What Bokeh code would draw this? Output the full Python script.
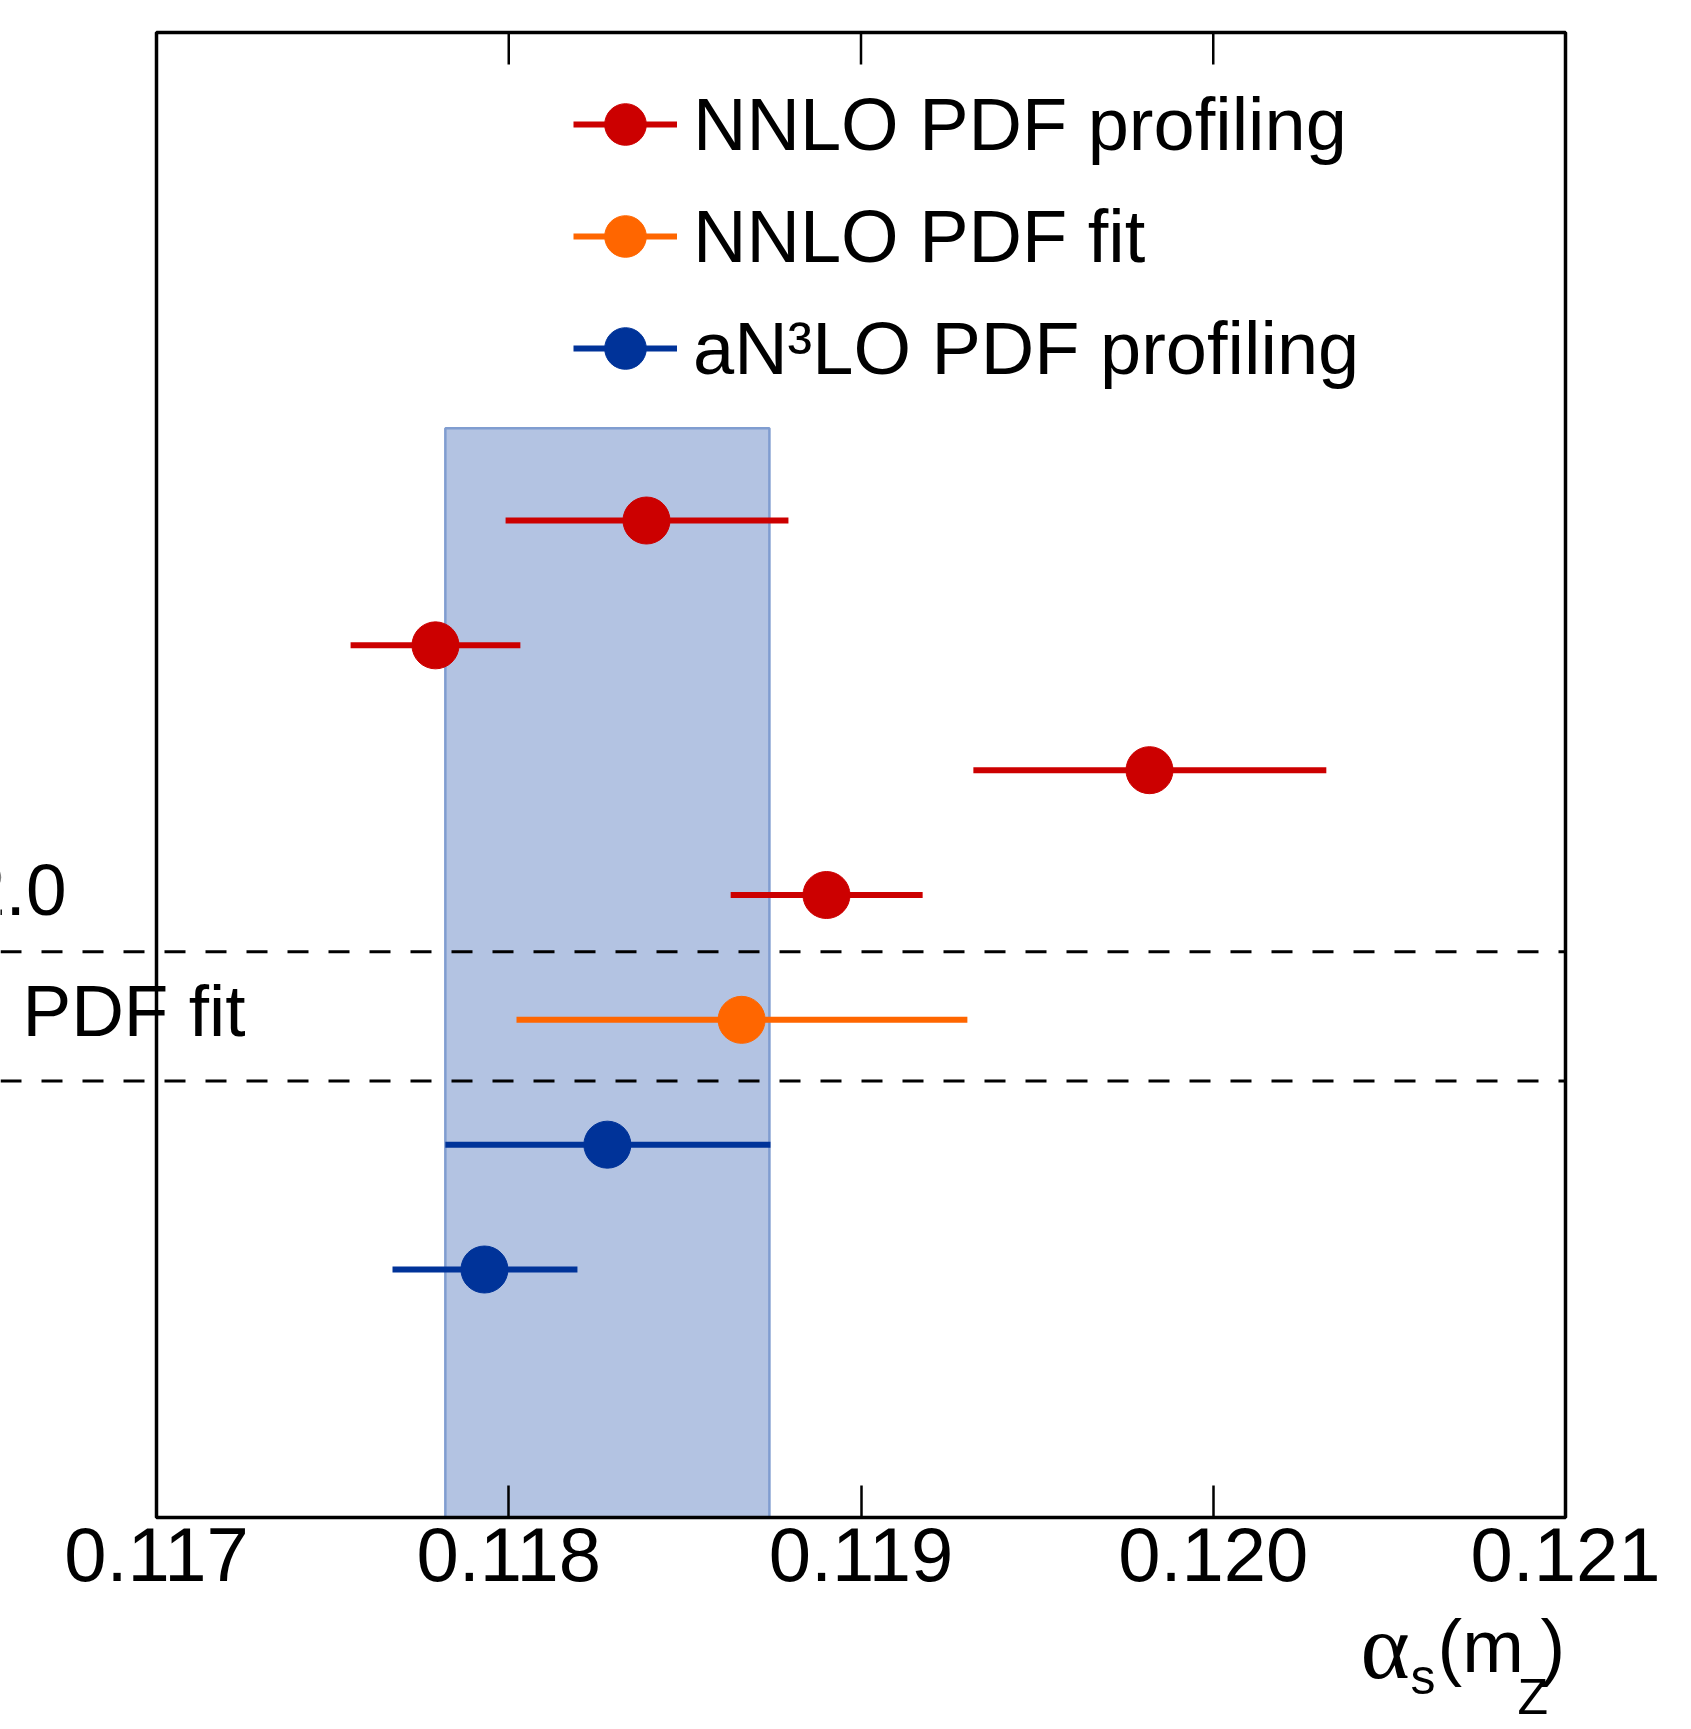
from bokeh.plotting import figure
from bokeh.models import (ColumnDataSource, Range1d, FixedTicker, LinearAxis, Label,
                          Legend, LegendItem, PrintfTickFormatter)
from bokeh.embed import file_html
from bokeh.resources import INLINE

# ---------------- data ----------------
red_y = [7, 6, 5, 4]
red_val = [0.118391, 0.117792, 0.119819, 0.118902]
red_lo = [0.117991, 0.117551, 0.119319, 0.118630]
red_hi = [0.118794, 0.118033, 0.120321, 0.119175]

orange_y = [3]
orange_val = [0.118661]
orange_lo = [0.118022]
orange_hi = [0.119302]

blue_y = [2, 1]
blue_val = [0.118280, 0.117931]
blue_lo = [0.117820, 0.117670]
blue_hi = [0.118743, 0.118195]

band_lo, band_hi, band_top = 0.117820, 0.118740, 7.74
separators = [3.545, 2.51]

x_ticks = [0.117, 0.118, 0.119, 0.120, 0.121]
X_MIN, X_MAX = 0.117, 0.121
Y_MIN, Y_MAX = -0.987, 10.909

side_labels = ["2.0", "PDF fit"]
side_label_y = [4.04, 3.072]
legend_labels = ["NNLO PDF profiling", "NNLO PDF fit", "aN\u00b3LO PDF profiling"]

RED, ORANGE, BLUE = "#cc0000", "#ff6600", "#003399"

# ---------------- layout (pixels) ----------------
W, H = 1691, 1729
BOX_L, BOX_R = 156, 1565
XPP = (X_MAX - X_MIN) / (BOX_R - BOX_L)   # data units per pixel (x)
PPY = 124.83                              # pixels per data unit (y)
ROW1_PX = 1269                            # pixel row of y = 1


def px_x(px):
    return X_MIN + (px - BOX_L) * XPP


def px_y(py):
    return 1 + (ROW1_PX - py) / PPY


p = figure(width=W, height=H, output_backend="svg", toolbar_location=None,
           x_range=Range1d(px_x(0), px_x(W)), y_range=Range1d(px_y(H), px_y(0)),
           y_axis_location=None, x_axis_location=None,
           min_border_left=0, min_border_right=0,
           min_border_top=0, min_border_bottom=0)
p.outline_line_color = None
p.xgrid.visible = False
p.ygrid.visible = False
p.background_fill_color = "white"
p.border_fill_color = "white"

FONT = "Liberation Sans"

# band
p.quad(left=[band_lo], right=[band_hi], bottom=[Y_MIN], top=[band_top],
       fill_color="#b3c3e2", line_color="#809dd0", line_width=2.5)

# dashed separators (they run out to the left edge of the picture)
p.segment(x0=[px_x(0)] * len(separators), x1=[X_MAX] * len(separators),
          y0=separators, y1=separators, line_color="black", line_width=3,
          line_dash="21 20")

# frame box
p.quad(left=[X_MIN], right=[X_MAX], bottom=[Y_MIN], top=[Y_MAX],
       fill_color=None, line_color="black", line_width=3.5)

# top ticks (inward)
tick_len = 32 / PPY
p.segment(x0=x_ticks, x1=x_ticks, y0=[Y_MAX] * len(x_ticks),
          y1=[Y_MAX - tick_len] * len(x_ticks), line_color="black", line_width=2.5)

items = []
for ys, v, lo, hi, col, lab in [
    (red_y, red_val, red_lo, red_hi, RED, legend_labels[0]),
    (orange_y, orange_val, orange_lo, orange_hi, ORANGE, legend_labels[1]),
    (blue_y, blue_val, blue_lo, blue_hi, BLUE, legend_labels[2]),
]:
    src = ColumnDataSource(dict(y=ys, v=v, lo=lo, hi=hi))
    seg = p.segment(x0="lo", x1="hi", y0="y", y1="y", source=src,
                    line_color=col, line_width=6)
    sc = p.scatter(x="v", y="y", source=src, size=47, fill_color=col,
                   line_color=col, line_width=1)
    items.append(LegendItem(label=lab, renderers=[seg, sc]))

legend = Legend(items=items, location=(573, H - 404),
                glyph_width=104, glyph_height=112, label_height=112,
                spacing=0, padding=0, margin=0, label_standoff=16,
                border_line_color=None, background_fill_alpha=0,
                label_text_font=FONT, label_text_font_size="74px",
                label_text_color="black")
p.add_layout(legend)

# bottom axis, drawn at the bottom edge of the box
ticker = FixedTicker(ticks=x_ticks)
xb = LinearAxis(ticker=ticker, formatter=PrintfTickFormatter(format="%.3f"),
                fixed_location=Y_MIN)
xb.axis_line_color = None
xb.major_tick_in = 32
xb.major_tick_out = 0
xb.major_tick_line_width = 2.5
xb.major_tick_line_color = "black"
xb.minor_tick_line_color = None
xb.major_label_text_font = FONT
xb.major_label_text_font_size = "76px"
xb.major_label_text_color = "black"
xb.major_label_standoff = 10
p.add_layout(xb, "below")

# side labels (cut at the left edge, as in the original)
for txt, yy, right_px in zip(side_labels, side_label_y, [66, 245]):
    p.add_layout(Label(x=px_x(right_px), y=yy, text=txt, text_align="right",
                       text_baseline="middle", text_font=FONT,
                       text_font_size="73px", text_color="black"))

# axis title alpha_s(m_Z)
title_parts = [
    ("\u03b1", 1360, 1645, "94px", "Liberation Serif"),
    ("s", 1410, 1676, "50px", FONT),
    ("(m", 1437, 1646, "74px", FONT),
    ("Z", 1517, 1696, "50px", FONT),
    (")", 1540, 1646, "74px", FONT),
]
for txt, xp, yp, fs, fn in title_parts:
    p.add_layout(Label(x=px_x(xp), y=px_y(yp), text=txt, text_align="left",
                       text_baseline="middle", text_font=fn,
                       text_font_size=fs, text_color="black"))

open("out.html", "w").write(file_html(p, INLINE))
